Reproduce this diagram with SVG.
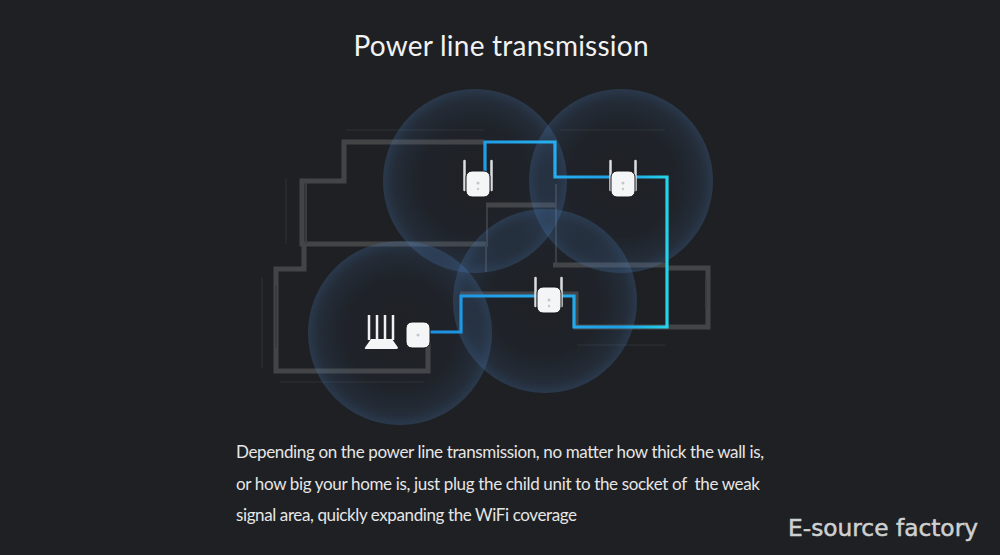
<svg xmlns="http://www.w3.org/2000/svg" width="1000" height="555" viewBox="0 0 1000 555">
<style>
.wall{fill:none;stroke:#434446;stroke-width:5}
.thin{fill:none;stroke:#3b3c3f;stroke-width:2}
.faint{fill:none;stroke:#292b2f;stroke-width:1.5}
.cir{fill:url(#halo)}
.body{fill:#f4f5f6;stroke:#16171a;stroke-width:1}
.ant{stroke:#dcdddf;stroke-width:2.5;stroke-linecap:round}
.rant{stroke:#f0f0f1;stroke-width:2.5}
.dot{fill:#c4c6c9}
.cap{font-family:"Lato","Open Sans",sans-serif;font-size:17px;fill:#e6e6e6;white-space:pre}
</style>
<defs>
<radialGradient id="halo" cx="50%" cy="50%" r="50%">
<stop offset="0" stop-color="#3f6ea8" stop-opacity="0"/>
<stop offset="0.6" stop-color="#3f6ea8" stop-opacity="0.04"/>
<stop offset="0.88" stop-color="#4678b4" stop-opacity="0.14"/>
<stop offset="1" stop-color="#4a7cb8" stop-opacity="0.27"/>
</radialGradient>
<linearGradient id="wire" gradientUnits="userSpaceOnUse" x1="430" y1="0" x2="668" y2="0">
<stop offset="0" stop-color="#1c8fe0"/>
<stop offset="0.5" stop-color="#26aeee"/>
<stop offset="0.8" stop-color="#1f9fe4"/>
<stop offset="1" stop-color="#24d4ea"/>
</linearGradient>
</defs>
<rect width="1000" height="555" fill="#1e2024"/>
<text x="501" y="56" text-anchor="middle" font-family="Lato,'Open Sans',sans-serif" font-size="28" fill="#f2f2f2" textLength="295">Power line transmission</text>
<g id="floorplan">
<path class="wall" d="M484 142H344V181H302V244H488"/>
<path class="thin" d="M306 183V244M487 205V244"/>
<path class="wall" d="M486 205H556"/>
<path class="thin" d="M556 184V265M486 244V272"/>
<path class="wall" d="M304 244V269H276V371H428V342"/>
<path class="wall" d="M553 265H666M668 268H708V327H576V294H460"/>
<path class="thin" d="M706 278V308M276 285V348"/>
<path class="faint" d="M346 130H484M560 130H665M286 178V244M262 277V368M280 382H424M577 345H665"/>
</g>
<g id="coverage">
<circle class="cir" cx="475" cy="181" r="92"/>
<circle class="cir" cx="621" cy="181" r="92"/>
<circle class="cir" cx="545" cy="301" r="92"/>
<circle class="cir" cx="400" cy="333" r="92"/>
</g>
<g id="connectors">
<path d="M430 332H461V296H574V327H667V177H555V142H485V172" fill="none" stroke="url(#wire)" stroke-width="3.2"/>
</g>
<g id="router">
<path class="rant" d="M369 315V340M377 315V340M385 315V340M393 315V340"/>
<path d="M365 347.500L371 339H392L398 347.500Q398 349 396 349H367Q364 349 365 347.500Z" fill="#f4f5f6"/>
</g>
<g id="base-unit">
<rect class="body" x="406" y="322" width="24" height="26" rx="6"/>
<circle class="dot" cx="418" cy="335" r="1.500"/>
</g>
<g id="extender-1">
<path class="ant" d="M464.500 161V190M491.500 161V190"/>
<rect class="body" x="466" y="171" width="24" height="26" rx="6"/>
<circle class="dot" cx="478" cy="183" r="1.500"/><circle class="dot" cx="478" cy="189" r="1.200"/>
</g>
<g id="extender-2">
<path class="ant" d="M610.500 161V190M635.500 161V190"/>
<rect class="body" x="611" y="171" width="24" height="26" rx="6"/>
<circle class="dot" cx="623" cy="183" r="1.500"/><circle class="dot" cx="623" cy="189" r="1.200"/>
</g>
<g id="extender-3">
<path class="ant" d="M535.500 278V306M561.500 278V306"/>
<rect class="body" x="537" y="287" width="24" height="26" rx="6"/>
<circle class="dot" cx="549" cy="300" r="1.500"/><circle class="dot" cx="549" cy="306" r="1.200"/>
</g>
<text class="cap" x="236" y="458" textLength="528">Depending on the power line transmission, no matter how thick the wall is,</text>
<text class="cap" x="236" y="490" textLength="524">or how big your home is, just plug the child unit to the socket of  the weak</text>
<text class="cap" x="236" y="521" textLength="341">signal area, quickly expanding the WiFi coverage</text>
<text x="788" y="536" font-family="'DejaVu Sans',sans-serif" font-size="23" fill="#cfd0d1" stroke="#cfd0d1" stroke-width="0.5" textLength="190" lengthAdjust="spacingAndGlyphs">E-source factory</text>
</svg>
